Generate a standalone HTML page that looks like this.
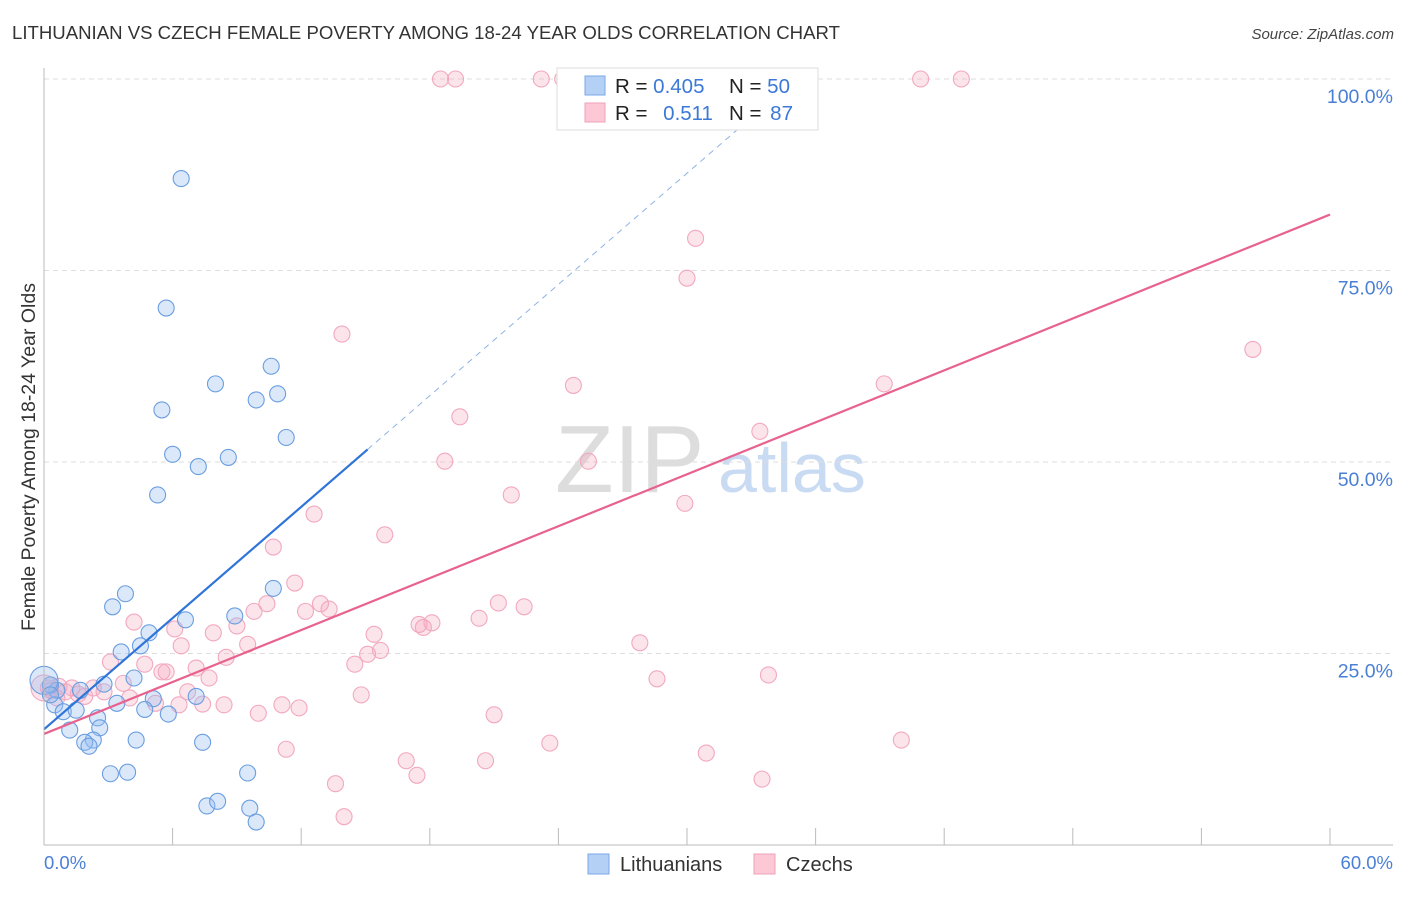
<!DOCTYPE html>
<html><head><meta charset="utf-8"><style>
body{margin:0;background:#fff;font-family:"Liberation Sans",sans-serif}
svg text{font-family:"Liberation Sans",sans-serif}
</style></head><body>
<svg id="c" width="1406" height="892">
<text x="12" y="39" font-size="18.6" fill="#333">LITHUANIAN VS CZECH FEMALE POVERTY AMONG 18-24 YEAR OLDS CORRELATION CHART</text>
<text x="1394" y="39" font-size="15" fill="#444" text-anchor="end" font-style="italic">Source: ZipAtlas.com</text>
<text x="35" y="457" font-size="19.5" fill="#333" text-anchor="middle" transform="rotate(-90 35 457)">Female Poverty Among 18-24 Year Olds</text>
<g><text x="555" y="492" font-size="96" fill="#ddd" font-family="Liberation Serif">ZIP</text><text x="718" y="492" font-size="70" fill="#c9dbf3">atlas</text></g>
<g id="grid"></g><g id="pts"></g><g id="lines"></g>
<line x1="44" y1="68" x2="44" y2="845" stroke="#bbb"/>
<line x1="44" y1="845" x2="1393" y2="845" stroke="#bbb"/>
<text x="44" y="869" font-size="18.5" fill="#4a7fd6">0.0%</text>
<text x="1393" y="869" font-size="18.5" fill="#4a7fd6" text-anchor="end">60.0%</text>
<g>
<rect x="557" y="68" width="261" height="62" fill="#fff" stroke="#ddd"/>
<rect x="585" y="76" width="20" height="19" fill="#b5d0f5" stroke="#7aa8e8"/>
<rect x="585" y="103" width="20" height="19" fill="#fcc8d6" stroke="#f0a0b8"/>
<text x="615" y="93" font-size="20.5" fill="#222">R = <tspan fill="#3b78d8">0.405</tspan></text>
<text x="729" y="93" font-size="20.5" fill="#222">N = <tspan fill="#3b78d8">50</tspan></text>
<text x="615" y="120" font-size="20.5" fill="#222">R = <tspan fill="#3b78d8" dx="10">0.511</tspan></text>
<text x="729" y="120" font-size="20.5" fill="#222">N = <tspan fill="#3b78d8" dx="3">87</tspan></text>
</g>
<g><rect x="588" y="854" width="21" height="20" fill="#b5d0f5" stroke="#7aa8e8"/><text x="620" y="871" font-size="20" fill="#333">Lithuanians</text></g>
<g><rect x="754" y="854" width="21" height="20" fill="#fcc8d6" stroke="#f0a0b8"/><text x="786" y="871" font-size="20" fill="#333">Czechs</text></g>
</svg>
<script>
const yTicks=[25,50,75,100];
const yTickLabels=["25.0%","50.0%","75.0%","100.0%"];
const xTicks=[6,12,18,24,30,36,42,48,54,60];
const lithuanians=[[6.4,87.0],[5.7,70.1],[8.0,60.2],[10.6,62.5],[10.9,58.9],[9.9,58.1],[5.5,56.8],[11.3,53.2],[6.0,51.0],[7.2,49.4],[8.6,50.6],[5.3,45.7],[10.7,33.5],[3.8,32.8],[3.2,31.1],[8.9,29.9],[6.6,29.4],[4.9,27.7],[3.6,25.2],[4.5,26.0],[4.2,21.8],[2.8,21.0],[3.4,18.5],[5.1,19.1],[4.7,17.7],[5.8,17.1],[7.1,19.4],[1.7,20.2],[0.6,20.2],[0.3,20.9],[0.5,18.3],[0.9,17.4],[1.5,17.6],[1.2,15.0],[2.5,16.6],[2.6,15.3],[2.3,13.7],[1.9,13.4],[2.1,12.9],[4.3,13.7],[7.4,13.4],[3.1,9.3],[3.9,9.5],[9.5,9.4],[7.6,5.1],[8.1,5.7],[9.6,4.8],[9.9,3.0],[0.0,21.5],[0.3,19.6]];
const czechs=[[18.5,100],[19.2,100],[23.2,100],[24.2,100],[31.5,100],[40.9,100],[42.8,100],[30.4,79.2],[30.0,74.0],[13.9,66.7],[56.4,64.7],[24.7,60.0],[39.2,60.2],[19.4,55.9],[33.4,54.0],[18.7,50.1],[25.4,50.1],[21.8,45.7],[29.9,44.6],[12.6,43.2],[15.9,40.5],[10.7,38.9],[11.7,34.2],[10.4,31.5],[12.9,31.5],[13.3,30.8],[12.2,30.5],[21.2,31.6],[22.4,31.1],[20.3,29.6],[9.8,30.5],[17.5,28.8],[18.1,29.0],[17.7,28.4],[15.4,27.5],[27.8,26.4],[4.2,29.1],[6.1,28.2],[7.9,27.7],[9.0,28.6],[6.4,26.0],[9.5,26.2],[8.5,24.5],[15.1,24.9],[15.7,25.4],[14.5,23.6],[3.1,23.9],[4.7,23.6],[5.5,22.6],[5.7,22.6],[7.1,23.1],[7.7,21.8],[3.7,21.1],[2.3,20.5],[1.3,20.5],[0.7,20.7],[0.3,20.2],[2.8,20.0],[1.9,19.4],[4.0,19.2],[6.7,20.0],[7.4,18.4],[5.2,18.5],[6.3,18.3],[8.4,18.3],[11.1,18.3],[11.9,17.9],[14.8,19.6],[28.6,21.7],[33.8,22.2],[10.0,17.2],[21.0,17.0],[23.6,13.3],[40.0,13.7],[11.3,12.5],[30.9,12.0],[16.9,11.0],[20.6,11.0],[17.4,9.1],[13.6,8.0],[33.5,8.6],[14.0,3.7],[0.2,20.5],[0.6,19.2],[1.0,20.0],[1.6,19.7],[0.0,20.5]];
const blueTrend=[15.1,2.42]; // intercept, slope
const pinkTrend=[14.5,1.13];
const NS="http://www.w3.org/2000/svg";
const X=v=>44+v/60*1286, Y=v=>845-v/100*766;
function mk(t,a,p){const e=document.createElementNS(NS,t);for(const k in a)e.setAttribute(k,a[k]);p.appendChild(e);return e;}
const grid=document.getElementById('grid');
yTicks.forEach((t,i)=>{
 const l=mk('line',{x1:44,x2:1393,y1:Y(t),y2:Y(t),stroke:'#ddd','stroke-dasharray':'5,4'},grid);
 
 
 const tx=mk('text',{x:1393,y:Y(t)+24,'font-size':19.5,fill:'#4a7fd6','text-anchor':'end'},grid);
 tx.textContent=yTickLabels[i];
 
 
});
xTicks.forEach(t=>{
 const l=mk('line',{x1:X(t),x2:X(t),y1:828,y2:845,stroke:'#bbb'},grid);
 
 
});
const pts=document.getElementById('pts');
czechs.forEach((d,i)=>{
 const c=mk('circle',{cx:X(d[0]),cy:Y(d[1]),r:i==czechs.length-1?13:8,fill:'rgba(245,165,190,0.3)',stroke:'#f2a8bf','stroke-width':1.1},pts);
 
 
});
lithuanians.forEach((d,i)=>{
 const c=mk('circle',{cx:X(d[0]),cy:Y(d[1]),r:i==48?14:8,fill:'rgba(150,190,240,0.35)',stroke:'#6a9ee0','stroke-width':1.1},pts);
 
 
});
const lines=document.getElementById('lines');
const bEnd=15.1, bDash=(100-blueTrend[0])/blueTrend[1];
let l=mk('line',{x1:X(0),y1:Y(blueTrend[0]),x2:X(bEnd),y2:Y(blueTrend[0]+blueTrend[1]*bEnd),stroke:'#2f74d8','stroke-width':2.2},lines);


l=mk('line',{x1:X(bEnd),y1:Y(blueTrend[0]+blueTrend[1]*bEnd),x2:X(bDash),y2:Y(100),stroke:'#8fb3e6','stroke-width':1,'stroke-dasharray':'6,5'},lines);


l=mk('line',{x1:X(0),y1:Y(pinkTrend[0]),x2:X(60),y2:Y(pinkTrend[0]+pinkTrend[1]*60),stroke:'#e8628e','stroke-width':2.2},lines);


</script>
</body></html>
